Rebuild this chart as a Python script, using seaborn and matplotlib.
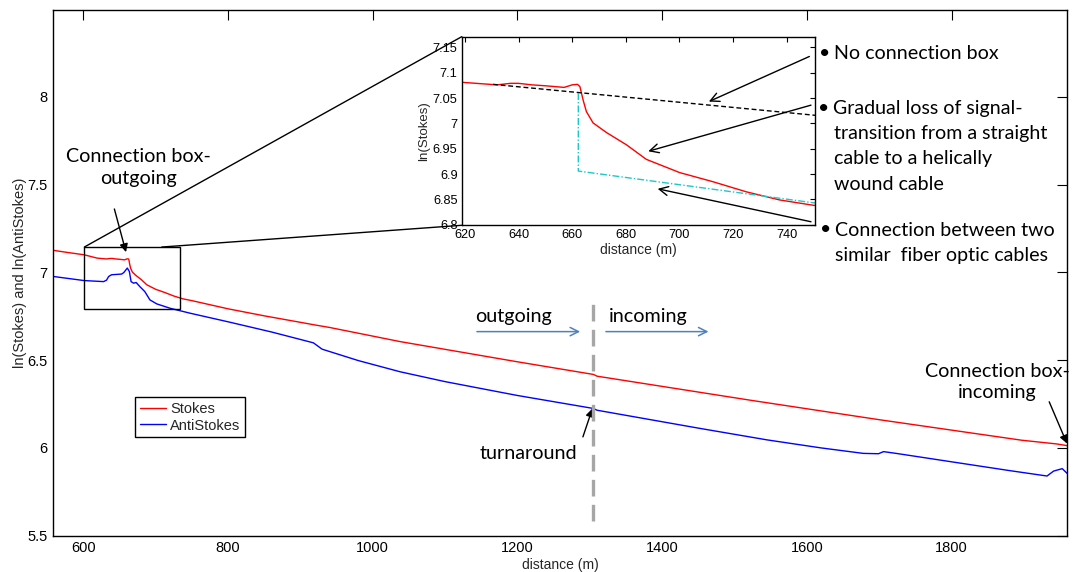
import numpy as np
import pandas as pd
import matplotlib
matplotlib.use("Agg")
import matplotlib.pyplot as plt
import seaborn as sns
from matplotlib.patches import Rectangle, ConnectionPatch

# ---------------- data ----------------
stokes_x = [559, 580, 601, 619, 632, 637, 640, 645, 650.5, 657, 660, 662, 662.9, 664.1, 665.3,
            667.8, 672.8, 680.2, 687.7, 700.1, 712.5, 725, 737.4, 750.6, 800, 850, 900, 920,
            940, 1038, 1200, 1305, 1310, 1522, 1700, 1897, 1945, 1960]
stokes_y = [7.125, 7.112, 7.100, 7.081, 7.076, 7.079, 7.079, 7.076, 7.074, 7.071, 7.076, 7.077,
            7.0725, 7.046, 7.0235, 7.001, 6.982, 6.958, 6.929, 6.903, 6.885, 6.865, 6.849, 6.838,
            6.792, 6.752, 6.715, 6.700, 6.686, 6.605, 6.490, 6.418, 6.408, 6.271, 6.160, 6.043,
            6.022, 6.012]

anti_x = [559, 601, 628, 632, 635, 639, 653, 656, 660.8, 663.6, 666, 669.5, 673, 678, 685, 692,
          701.5, 720, 747.5, 800, 860, 905, 918, 930, 980, 1038, 1100, 1200, 1305, 1310, 1450,
          1545, 1620, 1678, 1699, 1706, 1725, 1800, 1880, 1932, 1941, 1953, 1960]
anti_y = [6.976, 6.953, 6.947, 6.955, 6.976, 6.986, 6.990, 6.999, 7.024, 7.005, 6.947, 6.938,
          6.942, 6.919, 6.890, 6.843, 6.820, 6.795, 6.767, 6.718, 6.660, 6.612, 6.598, 6.562,
          6.497, 6.433, 6.377, 6.298, 6.224, 6.214, 6.112, 6.045, 5.999, 5.968, 5.966, 5.978,
          5.967, 5.920, 5.870, 5.839, 5.867, 5.881, 5.853]

nobox_x = [630.5, 750.6]
nobox_y = [7.077, 7.016]
conn_x = [662.3, 662.3, 750.6]
conn_y = [7.060, 6.906, 6.843]

main_xticks = [600, 800, 1000, 1200, 1400, 1600, 1800]
main_yticks = [5.5, 6, 6.5, 7, 7.5, 8]
main_yticklabels = ["5.5", "6", "6.5", "7", "7.5", "8"]
inset_xticks = [620, 640, 660, 680, 700, 720, 740]
inset_yticks = [6.8, 6.85, 6.9, 6.95, 7.0, 7.05, 7.1, 7.15]
inset_yticklabels = ["6.8", "6.85", "6.9", "6.95", "7", "7.05", "7.1", "7.15"]
turnaround_x = 1305
zoom_box = (601.4, 734.1, 6.79, 7.144)   # x0, x1, y0, y1

# ---------------- style ----------------
sns.set_theme(style="white")
plt.rcParams["font.family"] = ["Liberation Sans", "DejaVu Sans"]
plt.rcParams["xtick.direction"] = "in"
plt.rcParams["ytick.direction"] = "in"

W, H = 1074, 572
fig = plt.figure(figsize=(W / 100, H / 100), dpi=100)
fig.patch.set_facecolor("white")

def px(x0, y0, x1, y1):
    return [x0 / W, 1 - y1 / H, (x1 - x0) / W, (y1 - y0) / H]

ax = fig.add_axes(px(53.3, 10, 1067.3, 535.5))
ax.set_facecolor("white")

sns.lineplot(x=stokes_x, y=stokes_y, ax=ax, color="red", lw=1.0, label="Stokes",
             estimator=None, sort=False)
sns.lineplot(x=anti_x, y=anti_y, ax=ax, color="blue", lw=1.0, label="AntiStokes",
             estimator=None, sort=False)

ax.set_xlim(558.5, 1960)
ax.set_ylim(5.5, 8.495)
ax.set_xticks(main_xticks)
ax.set_xticklabels([str(t) for t in main_xticks])
ax.set_yticks(main_yticks)
ax.set_yticklabels(main_yticklabels)
ax.tick_params(axis="both", which="both", direction="in", length=7, width=0.8,
               top=True, right=True, labelsize=10.5, colors="black", pad=4)
for s in ax.spines.values():
    s.set_color("black")
    s.set_linewidth(1.0)
ax.set_xlabel("distance (m)", fontsize=10, labelpad=2)
ax.set_ylabel("ln(Stokes) and ln(AntiStokes)", fontsize=10.5, labelpad=0.5)

leg = ax.legend(loc="upper left", bbox_to_anchor=(0.0809, 0.263), borderaxespad=0,
                frameon=True, fancybox=False, edgecolor="black", framealpha=1,
                prop={"size": 10.5}, handlelength=1.8, labelspacing=0.2, borderpad=0.3,
                handletextpad=0.3)
leg.get_frame().set_linewidth(1.0)

# zoom rectangle
x0, x1, y0, y1 = zoom_box
ax.add_patch(Rectangle((x0, y0), x1 - x0, y1 - y0, fill=False, edgecolor="black", lw=1.0, zorder=5))

# turnaround dashed line
ax.vlines(turnaround_x, 5.58, 6.85, colors="#A6A6A6", lw=2.4, linestyles=(0, (5, 2.5)), zorder=4)

callout = dict(fontfamily="Lato", fontsize=14.2, color="black")
ax.text(675.6, 7.597, "Connection box-\noutgoing", ha="center", va="center", linespacing=1.3, **callout)
ax.annotate("", xy=(659, 7.115), xytext=(642.9, 7.361),
            arrowprops=dict(arrowstyle="-|>", color="black", lw=1, mutation_scale=12, shrinkA=0, shrinkB=0))
ax.text(1863, 6.375, "Connection box-\nincoming", ha="center", va="center", linespacing=1.3, **callout)
ax.annotate("", xy=(1959.6, 6.024), xytext=(1935, 6.262), annotation_clip=False,
            arrowprops=dict(arrowstyle="-|>", color="black", lw=1, mutation_scale=12, shrinkA=0, shrinkB=0))
ax.text(1194, 6.746, "outgoing", ha="center", va="center", **callout)
ax.text(1380.6, 6.746, "incoming", ha="center", va="center", **callout)
for xa, xb in [(1144, 1286.7), (1322.3, 1464.1)]:
    ax.annotate("", xy=(xb, 6.662), xytext=(xa, 6.662),
                arrowprops=dict(arrowstyle="->", color="#4F81BD", lw=1.1, mutation_scale=15, shrinkA=0, shrinkB=0))
ax.text(1215.2, 5.967, "turnaround", ha="center", va="center", **callout)
ax.annotate("", xy=(1303.7, 6.224), xytext=(1290.5, 6.062),
            arrowprops=dict(arrowstyle="-|>", color="black", lw=1, mutation_scale=12, shrinkA=0, shrinkB=0))

# ---------------- inset ----------------
axi = fig.add_axes(px(461.7, 36.7, 815, 225.3))
axi.set_facecolor("white")
sns.lineplot(x=stokes_x, y=stokes_y, ax=axi, color="red", lw=1.0, legend=False,
             estimator=None, sort=False)
sns.lineplot(x=nobox_x, y=nobox_y, ax=axi, color="black", lw=1.0, legend=False,
             estimator=None, sort=False, linestyle=(0, (3.5, 2)))
sns.lineplot(x=conn_x, y=conn_y, ax=axi, color="#1EC8C8", lw=1.0, legend=False,
             estimator=None, sort=False, linestyle=(0, (5, 1.5, 1, 1.5)))
axi.set_xlim(618.8, 750.6)
axi.set_ylim(6.799, 7.171)
axi.set_xticks(inset_xticks)
axi.set_xticklabels([str(t) for t in inset_xticks])
axi.set_yticks(inset_yticks)
axi.set_yticklabels(inset_yticklabels)
axi.tick_params(axis="both", direction="in", length=3.5, width=0.8, top=True, right=True,
                labelsize=9.2, colors="black", pad=3)
for s in axi.spines.values():
    s.set_color("black")
    s.set_linewidth(1.0)
axi.set_xlabel("distance (m)", fontsize=10, labelpad=1)
axi.set_ylabel("ln(Stokes)", fontsize=9.5, labelpad=2)

# inset arrows (open heads)
for tail, head in [((748.5, 7.132), (711, 7.043)),
                   ((749.1, 7.036), (688.4, 6.945)),
                   ((749.1, 6.806), (691.9, 6.871))]:
    axi.annotate("", xy=head, xytext=tail, annotation_clip=False,
                 arrowprops=dict(arrowstyle="->", color="black", lw=1.0, mutation_scale=16,
                                 shrinkA=0, shrinkB=0))

# connectors
for pA, pB in [((x0, y1), (0, 1)), ((708.4, y1), (0, 0))]:
    con = ConnectionPatch(xyA=pA, coordsA=ax.transData, xyB=pB, coordsB=axi.transAxes,
                          color="black", lw=1.0)
    ax.add_artist(con)

# bullet notes
bfont = dict(fontfamily="Lato", fontsize=14.1, color="black", va="center")
lines = [(53.3, "No connection box", 834, True),
         (108.3, "Gradual loss of signal-", 833, True),
         (133.3, "transition from a straight", 833.5, False),
         (158.3, "cable to a helically", 833.5, False),
         (184.0, "wound cable", 833.5, False),
         (230.0, "Connection between two", 835, True),
         (255.0, "similar  fiber optic cables", 835, False)]
for yy, txt, xx, bullet in lines:
    fig.text(xx / W, 1 - yy / H, txt, ha="left", **bfont)
    if bullet:
        fig.text((xx - 3.5) / W, 1 - yy / H, "\u2022", ha="right", **bfont)

fig.savefig("out.png", dpi=100, facecolor="white")
